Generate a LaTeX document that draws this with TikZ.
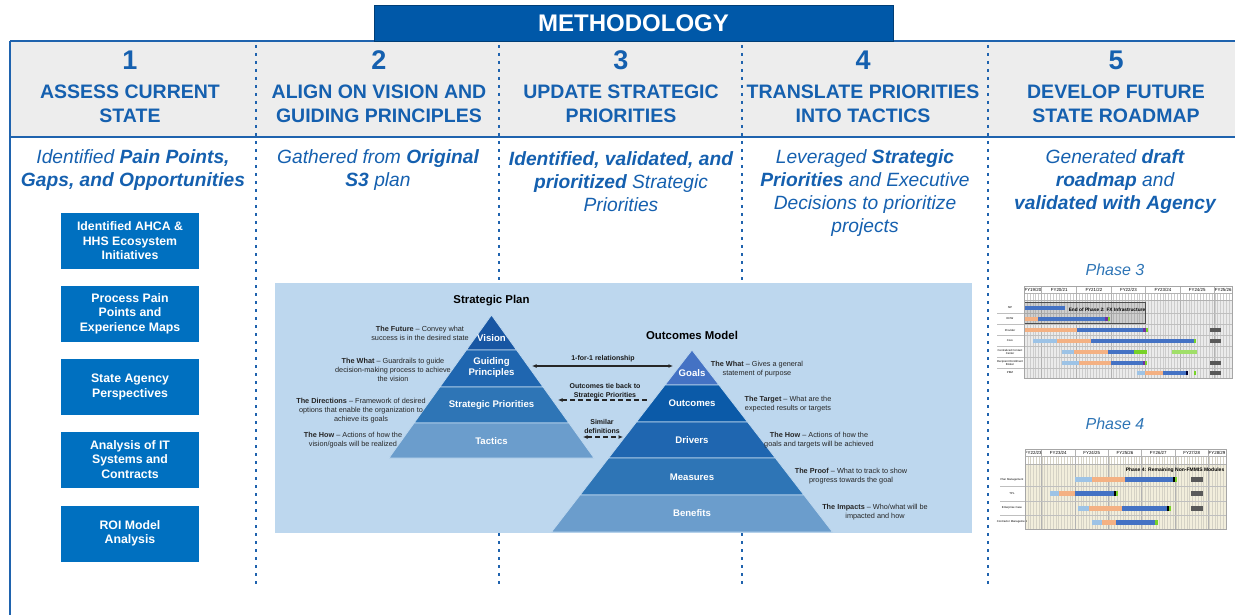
\documentclass[tikz,border=0pt]{standalone}
\usepackage{fontspec}
\setmainfont{Liberation Sans}
\usetikzlibrary{positioning,arrows.meta}

\definecolor{mblue}{RGB}{0,88,168}
\definecolor{tblue}{RGB}{21,96,175}
\definecolor{lineblue}{RGB}{31,99,174}
\definecolor{boxblue}{RGB}{0,112,192}
\definecolor{headgray}{RGB}{237,237,237}
\definecolor{panel}{RGB}{189,215,238}
\definecolor{lvA}{RGB}{24,86,163}
\definecolor{lvB}{RGB}{31,102,176}
\definecolor{lvC}{RGB}{46,117,182}
\definecolor{lvD}{RGB}{107,157,204}
\definecolor{goal}{RGB}{68,114,196}
\definecolor{outc}{RGB}{11,90,168}
\definecolor{phblue}{RGB}{46,117,182}
\definecolor{gdark}{RGB}{68,114,196}
\definecolor{glight}{RGB}{157,195,230}
\definecolor{gsalmon}{RGB}{244,177,131}
\definecolor{ggreen}{RGB}{120,210,40}
\definecolor{gpurple}{RGB}{112,48,160}
\definecolor{gbeige}{RGB}{242,238,220}

\tikzset{
    method/.style={
        draw=mblue!70!black,
        fill=mblue,
        text=white,
        minimum width=519pt,
        minimum height=36pt,
        font=\fontsize{24}{28}\selectfont\bfseries
    },
    colnum/.style={
        text=tblue,
        font=\fontsize{27}{30}\selectfont\bfseries
    },
    colhead/.style={
        text=tblue,
        align=center,
        font=\fontsize{19.5}{24}\selectfont\bfseries
    },
    subtext/.style={
        text=tblue,
        align=center,
        font=\fontsize{19.2}{23.3}\selectfont\itshape
    },
    inputbox/.style={
        fill=boxblue,
        text=white,
        align=center,
        inner sep=0pt,
        minimum width=138pt,
        minimum height=56pt,
        font=\fontsize{12.3}{14.6}\selectfont\bfseries
    },
    divider/.style={
        lineblue,
        line width=2.8pt,
        dash pattern=on 3.2pt off 4.8pt
    },
    layer/.style={
        text=white,
        align=center,
        inner sep=0pt,
        font=\fontsize{9.6}{11}\selectfont\bfseries
    },
    ptitle/.style={
        inner sep=0pt,
        font=\fontsize{11.4}{13}\selectfont\bfseries
    },
    note/.style={
        align=center,
        inner sep=0pt,
        text=black!85,
        font=\fontsize{7.3}{9}\selectfont
    },
    reltext/.style={
        align=center,
        inner sep=0pt,
        text=black!90,
        font=\fontsize{7}{8.5}\selectfont\bfseries
    },
    rel/.style={
        {Latex[length=4.5pt,width=4pt]}-{Latex[length=4.5pt,width=4pt]},
        line width=1.2pt,
        black!85
    },
    dashrel/.style={
        line width=1.3pt,
        dash pattern=on 5pt off 3pt,
        black!85
    },
    phase/.style={
        text=phblue,
        font=\fontsize{16}{18}\selectfont\itshape
    },
    fylabel/.style={
        inner sep=0pt,
        font=\fontsize{4.4}{5}\selectfont
    },
    rowlabel/.style={
        inner sep=0pt,
        align=center,
        font=\fontsize{2.8}{3.2}\selectfont
    }
}

\begin{document}
\begin{tikzpicture}[x=1pt,y=-1pt]
\useasboundingbox (0,0) rectangle (1235,615);

\fill[headgray] (10,41) rectangle (1235,137);
\draw[lineblue, line width=1.5pt] (10,41) -- (1235,41);
\draw[lineblue, line width=2.5pt] (10,137) -- (1235,137);
\draw[lineblue, line width=2pt] (10,41) -- (10,615);
\node[method] (meth) at (633.5,23) {METHODOLOGY};

\foreach \x in {256,499,742,988}
    \draw[divider] (\x,45) -- (\x,584);

\foreach \x/\n/\t [count=\i] in {130/1/{ASSESS CURRENT\\STATE},
                                 379/2/{ALIGN ON VISION AND\\GUIDING PRINCIPLES},
                                 621/3/{UPDATE STRATEGIC\\PRIORITIES},
                                 863/4/{TRANSLATE PRIORITIES\\INTO TACTICS},
                                 1116/5/{DEVELOP FUTURE\\STATE ROADMAP}}
{
    \node[colnum] (num\i) at (\x,60) {\n};
    \node[colhead] (head\i) at (\x,104) {\t};
}

\node[subtext] (sub1) at (133,170) {Identified \textbf{Pain Points,}\\\textbf{Gaps, and Opportunities}};
\node[subtext] (sub2) at (378,170) {Gathered from \textbf{Original}\\\textbf{S3} plan};
\node[subtext] (sub3) at (621,181.5) {\textbf{Identified, validated, and}\\\textbf{prioritized} Strategic\\Priorities};
\node[subtext] (sub4) at (865,193) {Leveraged \textbf{Strategic}\\\textbf{Priorities} and Executive\\Decisions to prioritize\\projects};
\node[subtext] (sub5) at (1115,181.5) {Generated \textbf{draft}\\\textbf{roadmap} and\\\textbf{validated with Agency}};

\foreach \y/\t [count=\i] in {241/{Identified AHCA \&\\HHS Ecosystem\\Initiatives},
                              313.5/{Process Pain\\Points and\\Experience Maps},
                              387/{State Agency\\Perspectives},
                              459.5/{Analysis of IT\\Systems and\\Contracts},
                              533.5/{ROI Model\\Analysis}}
    \node[inputbox] (in\i) at (130,\y) {\t};

\fill[panel] (275,283) rectangle (972,533);

\foreach \t/\b/\c/\txt/\ly [count=\i] in {315/350/lvA/Vision/338,
                                         350/387/lvB/{Guiding\\Principles}/368,
                                         387/423/lvC/Strategic Priorities/405,
                                         423/458/lvD/Tactics/441}
{
    \filldraw[\c, draw=panel, line width=0.8pt] ({491.5-0.7168*(\t-315)},\t) -- ({491.5+0.7168*(\t-315)},\t)
        -- ({491.5+0.7168*(\b-315)},\b) -- ({491.5-0.7168*(\b-315)},\b) -- cycle;
    \node[layer] (sp\i) at (491.5,\ly) {\txt};
}

\foreach \t/\b/\c/\txt/\ly [count=\i] in {350/385/goal/Goals/373,
                                         385/422/outc/Outcomes/403,
                                         422/458/lvB/Drivers/440,
                                         458/495/lvC/Measures/477,
                                         495/532/lvD/Benefits/513}
{
    \filldraw[\c, draw=panel, line width=0.8pt] ({692-0.772*(\t-350)},\t) -- ({692+0.772*(\t-350)},\t)
        -- ({692+0.772*(\b-350)},\b) -- ({692-0.772*(\b-350)},\b) -- cycle;
    \node[layer] (om\i) at (692,\ly) {\txt};
}

\node[ptitle] (sptitle) at (491.5,301) {Strategic Plan};
\node[ptitle] (omtitle) at (692,335) {Outcomes Model};

\node[note] (n1) at (420,333.5) {\textbf{The Future} – Convey what\\success is in the desired state};
\node[note] (n2) at (393,369.5) {\textbf{The What} – Guardrails to guide\\decision-making process to achieve\\the vision};
\node[note] (n3) at (361,411) {\textbf{The Directions} – Framework of desired\\options that enable the organization to\\achieve its goals};
\node[note] (n4) at (353,440) {\textbf{The How} – Actions of how the\\vision/goals will be realized};

\node[note] (m1) at (757,369) {\textbf{The What} – Gives a general\\statement of purpose};
\node[note] (m2) at (788,404) {\textbf{The Target} – What are the\\expected results or targets};
\node[note] (m3) at (819,440) {\textbf{The How} – Actions of how the\\goals and targets will be achieved};
\node[note] (m4) at (851,476.5) {\textbf{The Proof} – What to track to show\\progress towards the goal};
\node[note] (m5) at (875,512) {\textbf{The Impacts} – Who/what will be\\impacted and how};

\coordinate (gpR) at (532,366);
\coordinate (goL) at (673,366);
\coordinate (spR) at (558,400);
\coordinate (ocL) at (647,400);
\coordinate (taR) at (583,437);
\coordinate (drL) at (623,437);

\node[reltext] (rel1) at (603,358.5) {1-for-1 relationship};
\node[reltext] (rel2) at (605,391) {Outcomes tie back to\\Strategic Priorities};
\node[reltext] (rel3) at (602,426.5) {Similar\\definitions};

\draw[rel] (gpR) -- (goL);
\draw[dashrel, {Latex[length=4.5pt,width=4pt]}-] (spR) -- (ocL);
\draw[dashrel, {Latex[length=4.5pt,width=4pt]}-{Latex[length=4.5pt,width=4pt]}] (taR) -- (drL);

\node[phase] (ph3) at (1115,270) {Phase 3};
\fill[white] (1024,286) rectangle (1232,300);
\fill[gray!16] (1024,300) rectangle (1232,378);
\foreach \k in {1,...,71}
    \draw[gray!40, line width=0.3pt] ({1024+\k*2.889},293.5) -- ({1024+\k*2.889},378);
\foreach \x in {1041.7,1076.7,1111,1145.7,1180,1214.3}
    \draw[gray!60, line width=0.6pt] (\x,286) -- (\x,378);
\draw[gray!60, line width=0.4pt] (1024,293.5) -- (1232,293.5) (1024,300) -- (1232,300);
\foreach \x/\a/\b in {1032.9/19/20,1059.2/20/21,1093.9/21/22,1128.4/22/23,1162.9/23/24,1197.2/24/25,1223.2/25/26}
    \node[fylabel] (fy3\a) at (\x,289.8) {FY\a/\b};
\foreach \y in {313.5,324.5,335.5,346.5,357.3,368}
    \draw[gray!50, line width=0.3pt] (997,\y) -- (1232,\y);
\foreach \y/\t [count=\i] in {308/SIP,319/EDW,330/Provider,341/Core,352/{Centralized Contact\\Center},362.6/{Recipient Enrollment\\Broker},373/PBM}
    \node[rowlabel] (r3\i) at (1010,\y) {\t};
\fill[black, opacity=0.12] (1024,302.7) rectangle (1145.7,323.3);
\foreach \a/\b/\y/\c in {1024/1065/308/gdark,
                         1024/1038/319/gsalmon, 1038/1105/319/gdark, 1105/1108/319/gpurple, 1108/1110/319/ggreen,
                         1024/1077/330/gsalmon, 1077/1143/330/gdark, 1143/1146/330/gpurple, 1146/1148/330/ggreen, 1210/1221/330/black!65,
                         1033/1057/341/glight, 1057/1091/341/gsalmon, 1091/1194/341/gdark, 1194/1196/341/ggreen, 1210/1221/341/black!65,
                         1062/1074/352/glight, 1074/1108/352/gsalmon, 1108/1134/352/gdark, 1134/1147/352/ggreen, 1172/1197/352/ggreen!70,
                         1062/1079/362.6/glight, 1079/1111/362.6/gsalmon, 1111/1143/362.6/gdark, 1143/1145/362.6/gpurple, 1145/1147/362.6/ggreen, 1210/1221/362.6/black!65,
                         1137/1145/373/glight, 1145/1163/373/gsalmon, 1163/1186/373/gdark, 1186/1188/373/black!80!blue, 1194/1196/373/ggreen, 1210/1221/373/black!65}
    \fill[\c] (\a,\y-2) rectangle (\b,\y+2);
\draw[black!70, line width=0.8pt] (1024,302.7) rectangle (1145.7,323.3);
\node[inner sep=0pt, font=\fontsize{4.8}{5}\selectfont\bfseries] (eop2) at (1107,309.5) {End of Phase 2: FX Infrastructure};
\draw[gray!70, line width=0.6pt] (1024,286) rectangle (1232,378);

\node[phase] (ph4) at (1115,424) {Phase 4};
\fill[white] (1025,449) rectangle (1226,464);
\fill[gbeige] (1025,464) rectangle (1226,529);
\foreach \k in {1,...,71}
    \draw[gbeige!75!gray, line width=0.3pt] ({1025+\k*2.79},456) -- ({1025+\k*2.79},529);
\foreach \x in {1041.7,1075,1108.3,1141.7,1175,1208.3}
    \draw[gray!60, line width=0.6pt] (\x,449) -- (\x,529);
\draw[gray!60, line width=0.4pt] (1025,456) -- (1226,456) (1025,464) -- (1226,464);
\foreach \x/\a/\b in {1033.3/22/23,1058.3/23/24,1091.7/24/25,1125/25/26,1158.3/26/27,1191.7/27/28,1217/28/29}
    \node[fylabel] (fy4\a) at (\x,452.5) {FY\a/\b};
\foreach \y in {486.5,501,515}
    \draw[gray!50, line width=0.3pt] (1000,\y) -- (1226,\y);
\foreach \y/\t [count=\i] in {479.3/Plan Management,493.7/TPL,508/Enterprise Case,522.3/Contractor Management}
    \node[rowlabel] (r4\i) at (1012,\y) {\t};
\node[inner sep=0pt, anchor=east, font=\fontsize{5}{6}\selectfont\bfseries] (ph4title) at (1224.5,470.7) {Phase 4: Remaining Non-FMMIS Modules};
\foreach \a/\b/\y/\c in {1075/1092/479.3/glight, 1092/1125/479.3/gsalmon, 1125/1173/479.3/gdark, 1173/1175/479.3/black, 1175/1177/479.3/ggreen, 1191/1203/479.3/black!65,
                         1050/1059/493.7/glight, 1059/1075/493.7/gsalmon, 1075/1114/493.7/gdark, 1114/1116/493.7/black, 1116/1118/493.7/ggreen, 1191/1203/493.7/black!65,
                         1078/1089/508/glight, 1089/1122/508/gsalmon, 1122/1167/508/gdark, 1167/1169/508/black, 1169/1171/508/ggreen, 1191/1203/508/black!65,
                         1091.7/1101.7/522.3/glight, 1101.7/1116/522.3/gsalmon, 1116/1155/522.3/gdark, 1155/1158/522.3/ggreen}
    \fill[\c] (\a,\y-2.5) rectangle (\b,\y+2.5);
\draw[gray!70, line width=0.6pt] (1025,449) rectangle (1226,529);

\end{tikzpicture}
\end{document}
